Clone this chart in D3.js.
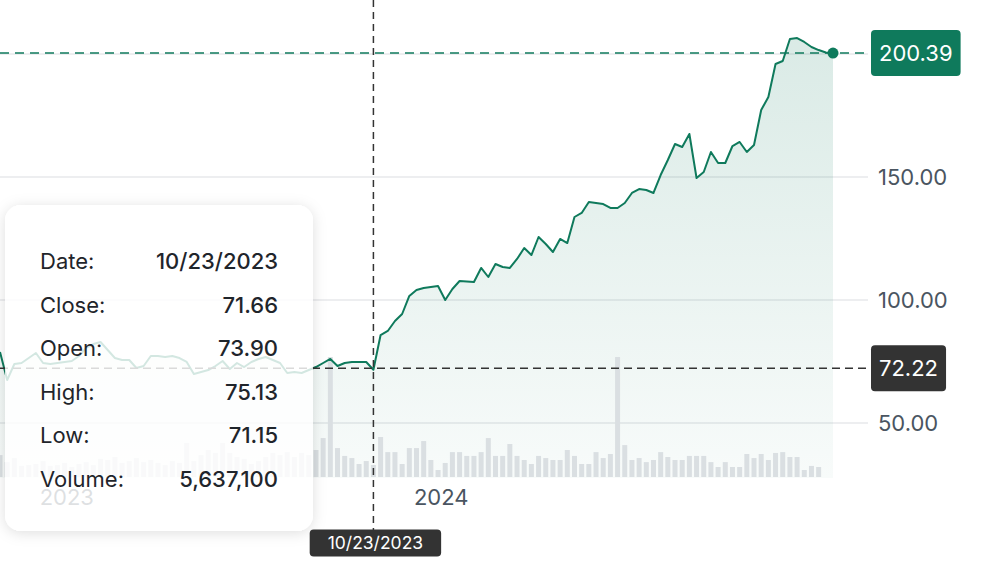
<!DOCTYPE html>
<html>
<head>
<meta charset="utf-8">
<script src="https://cdn.jsdelivr.net/npm/d3@7"></script>
<style>
  html, body { margin: 0; padding: 0; background: #fff; }
  svg { display: block; font-family: Inter, "Noto Sans", sans-serif; }
</style>
</head>
<body>
<svg id="chart" width="1000" height="569"></svg>
<script>
// weekly closes, 10/24/2022 .. 1/13/2025
const startDate = new Date(2022, 9, 24);
const endDate = new Date(2025, 0, 13);

const closes = [
  78.86, 67.48, 73.98, 74.39, 76.42, 78.46, 74.39, 73.98, 74.39, 74.80,
  75.20, 77.24, 80.49, 82.11, 82.93, 79.67, 76.42, 75.61, 75.61, 72.36,
  73.17, 77.24, 77.24, 76.83, 77.24, 76.42, 74.80, 69.92, 70.73, 71.54,
  73.17, 75.20, 71.95, 74.39, 72.76, 74.80, 76.02, 76.83, 75.61, 74.39,
  70.33, 70.73, 70.33, 71.54, 72.76, 74.39, 76.02, 73.17, 74.39, 74.80,
  74.80, 74.80, 71.66,
  85.77, 87.40, 91.46, 94.31, 101.63, 104.07, 104.88, 105.28, 105.69, 100.00,
  104.47, 107.72, 107.52, 107.32, 113.01, 109.35, 114.63, 113.41, 113.01, 116.67,
  121.14, 118.29, 125.61, 122.76, 119.51, 124.80, 123.17, 133.74, 135.37, 139.84,
  139.43, 139.02, 137.40, 137.40, 139.43, 143.50, 145.12, 144.72, 143.50, 150.81,
  156.91, 163.41, 162.20, 167.48, 149.59, 152.03, 160.16, 155.69, 155.69, 162.60,
  164.23, 160.16, 163.01, 177.24, 182.52, 195.93, 197.15, 206.10, 206.50, 204.88,
  202.85, 201.60, 200.60, 200.39
];

// volume in millions
const volumes = [
  10.3, 7.0, 8.9, 5.2, 5.6, 6.1, 7.5, 5.2, 5.6, 6.6,
  4.7, 6.1, 7.0, 5.6, 8.5, 8.0, 9.4, 6.6, 7.5, 8.9,
  7.0, 8.0, 6.6, 5.6, 7.5, 6.6, 16.0, 7.5, 10.3, 12.7,
  11.3, 16.0, 11.3, 9.4, 8.5, 6.1, 7.5, 9.4, 11.3, 10.3,
  11.7, 9.4, 11.3, 10.3,
  12.7, 18.3, 56.4, 13.6, 9.9, 8.9, 6.1, 7.5, 5.64, 18.8,
  11.7, 11.7, 6.1, 13.6, 13.6, 16.9, 8.0, 3.3, 6.6, 11.7,
  11.7, 9.9, 9.9, 11.7, 18.3, 9.9, 9.9, 15.5, 9.9, 8.0,
  6.1, 9.9, 8.9, 8.0, 8.0, 12.7, 9.9, 6.1, 6.1, 11.7,
  8.9, 10.8, 56.4,
  15.0, 8.0, 8.9, 7.0, 8.0, 11.7, 9.4, 8.0, 8.0, 9.9,
  9.9, 9.9, 7.0, 4.7, 7.0, 4.7, 4.7, 10.8, 8.9, 10.8,
  8.0, 11.3, 11.7, 9.4, 9.4, 3.3, 5.2, 4.7
];

const yTicks = [50, 100, 150, 200];
const xTicks = [new Date(2023, 0, 1), new Date(2024, 0, 1)];
const hoverIndex = 52;
const hoverPrice = 72.22;
const hoverLabel = '10/23/2023';
const lastPrice = 200.39;
const tipLabels = ['Date:', 'Close:', 'Open:', 'High:', 'Low:', 'Volume:'];
const tipValues = ['10/23/2023', '71.66', '73.90', '75.13', '71.15', '5,637,100'];

const GREEN = '#0f7a5c';
const DARK = '#333333';
const TICK = '#4a5561';

const dates = d3.timeMonday.range(startDate, d3.timeDay.offset(endDate, 1));
const data = dates.map((d, i) => ({ date: d, close: closes[i], vol: volumes[i] }));

const svg = d3.select('#chart');
const defs = svg.append('defs');

const x = d3.scaleTime().domain([startDate, endDate]).range([0, 833]);
const y = d3.scaleLinear().domain([50, 200]).range([423, 54]);
const yVol = d3.scaleLinear().domain([0, d3.max(volumes)]).range([477, 357]);
const baseY = 478;
const gridRight = 868;

// area gradient
const grad = defs.append('linearGradient').attr('id', 'areaGrad')
  .attr('gradientUnits', 'userSpaceOnUse')
  .attr('x1', 0).attr('x2', 0).attr('y1', 50).attr('y2', baseY);
grad.append('stop').attr('offset', '0%').attr('stop-color', GREEN).attr('stop-opacity', 0.15);
grad.append('stop').attr('offset', '100%').attr('stop-color', GREEN).attr('stop-opacity', 0.03);

// gridlines
svg.append('g').selectAll('line').data(yTicks).join('line')
  .attr('x1', 0).attr('x2', gridRight)
  .attr('y1', d => y(d)).attr('y2', d => y(d))
  .attr('stroke', '#e7e9eb').attr('stroke-width', 1.5);

// area
svg.append('path').datum(data)
  .attr('fill', 'url(#areaGrad)')
  .attr('d', d3.area().x(d => x(d.date)).y0(baseY).y1(d => y(d.close)));

// volume bars
svg.append('g').selectAll('rect').data(data.filter(d => d.vol != null)).join('rect')
  .attr('x', d => x(d.date) - 2.5).attr('width', 5)
  .attr('y', d => yVol(d.vol)).attr('height', d => 477 - yVol(d.vol))
  .attr('fill', '#dadfe2');

// price line
svg.append('path').datum(data)
  .attr('fill', 'none').attr('stroke', GREEN).attr('stroke-width', 2)
  .attr('stroke-linejoin', 'round')
  .attr('d', d3.line().x(d => x(d.date)).y(d => y(d.close)));

// last price dashed line
svg.append('line')
  .attr('x1', 0).attr('x2', gridRight).attr('y1', y(lastPrice)).attr('y2', y(lastPrice))
  .attr('stroke', GREEN).attr('stroke-width', 1.5).attr('stroke-dasharray', '9,6');

// hover horizontal
svg.append('line')
  .attr('x1', 0).attr('x2', gridRight).attr('y1', y(hoverPrice)).attr('y2', y(hoverPrice))
  .attr('stroke', DARK).attr('stroke-width', 1.5).attr('stroke-dasharray', '8,5');

// end dot
const last = data[data.length - 1];
svg.append('circle').attr('cx', x(last.date)).attr('cy', y(last.close)).attr('r', 5.5).attr('fill', GREEN);

// y tick labels
svg.append('g').selectAll('text').data(yTicks).join('text')
  .attr('x', 878).attr('y', d => y(d)).attr('dy', '0.36em')
  .attr('fill', TICK).attr('font-size', 22)
  .text(d => d3.format('.2f')(d));

// x tick labels
svg.append('g').selectAll('text').data(xTicks).join('text')
  .attr('x', d => x(d) - 4).attr('y', 497).attr('dy', '0.36em')
  .attr('text-anchor', 'middle')
  .attr('fill', TICK).attr('font-size', 22)
  .text(d => d3.timeFormat('%Y')(d));

// crosshair vertical
const hx = x(data[hoverIndex].date);
svg.append('line')
  .attr('x1', hx).attr('x2', hx).attr('y1', 0).attr('y2', 530)
  .attr('stroke', DARK).attr('stroke-width', 1.5).attr('stroke-dasharray', '7,5');

// tooltip card
const tip = { x: 5, y: 205, w: 308, h: 326 };
const shadow = defs.append('filter').attr('id', 'tipShadow')
  .attr('x', -0.2).attr('y', -0.2).attr('width', 1.4).attr('height', 1.4);
shadow.append('feDropShadow').attr('dx', 0).attr('dy', 2)
  .attr('stdDeviation', 7).attr('flood-color', '#000').attr('flood-opacity', 0.13);
const mask = defs.append('mask').attr('id', 'tipMask');
mask.append('rect').attr('width', 1000).attr('height', 569).attr('fill', '#fff');
mask.append('rect').attr('x', tip.x).attr('y', tip.y).attr('width', tip.w).attr('height', tip.h)
  .attr('rx', 16).attr('fill', '#000');

svg.append('g').attr('mask', 'url(#tipMask)')
  .append('rect').attr('x', tip.x).attr('y', tip.y).attr('width', tip.w).attr('height', tip.h)
  .attr('rx', 16).attr('fill', '#fff').attr('filter', 'url(#tipShadow)');
svg.append('rect').attr('x', tip.x).attr('y', tip.y).attr('width', tip.w).attr('height', tip.h)
  .attr('rx', 16).attr('fill', '#fff').attr('fill-opacity', 0.82);

const rowY = d3.scalePoint().domain(tipLabels).range([261, 479]);
const tipG = svg.append('g');
tipG.selectAll('.tl').data(tipLabels).join('text')
  .attr('x', 40).attr('y', d => rowY(d)).attr('dy', '0.36em')
  .attr('fill', '#1f252b').attr('font-size', 22)
  .text(d => d);
tipG.selectAll('.tv').data(tipValues).join('text')
  .attr('x', 278).attr('y', (d, i) => rowY(tipLabels[i])).attr('dy', '0.36em')
  .attr('text-anchor', 'end').attr('font-weight', 500)
  .attr('fill', '#1f252b').attr('font-size', 22)
  .text(d => d);

// value badges on the right
function badge(cx, cy, label, fill, size, padX, h, anchor) {
  const g = svg.append('g');
  const rect = g.append('rect').attr('fill', fill).attr('rx', 4);
  const t = g.append('text').attr('y', cy).attr('dy', '0.36em')
    .attr('fill', '#fff').attr('font-size', size).text(label);
  const w = t.node().getComputedTextLength() + padX * 2;
  const left = anchor === 'middle' ? cx - w / 2 : cx;
  t.attr('x', left + padX);
  rect.attr('x', left).attr('y', cy - h / 2).attr('width', w).attr('height', h);
}
badge(871, y(lastPrice), d3.format('.2f')(lastPrice), GREEN, 22, 8, 46, 'start');
badge(871, y(hoverPrice), d3.format('.2f')(hoverPrice), DARK, 22, 8, 46, 'start');
badge(hx + 2, 543, hoverLabel, DARK, 17.5, 18, 27, 'middle');
</script>
</body>
</html>
